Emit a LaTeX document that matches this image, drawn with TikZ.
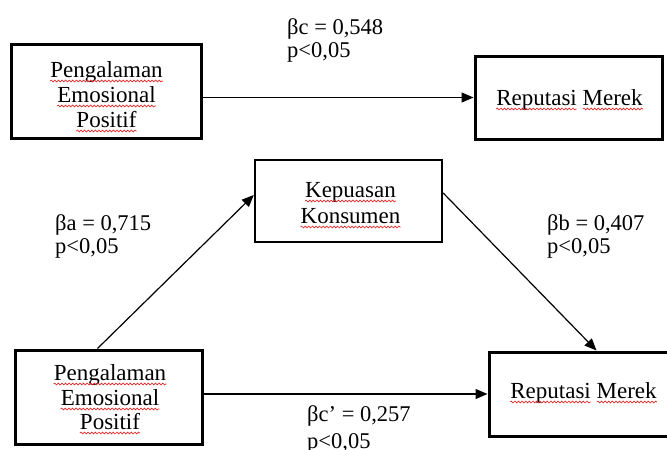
\documentclass[tikz,border=0pt]{standalone}
\usepackage{fontspec}
\setmainfont{Liberation Serif}
\usetikzlibrary{arrows.meta,decorations.pathmorphing}
\definecolor{spellred}{RGB}{228,40,40}
\newcommand\boxfont{\fontsize{23}{25}\selectfont}
\newlength\repw
\newlength\merw
\tikzset{
  varbox/.style={draw, line width=3pt, inner sep=0pt},
  midbox/.style={varbox, line width=2.4pt},
  boxline/.style={anchor=base, inner sep=0pt, font=\boxfont},
  wave/.style={draw=spellred, line width=0.7pt,
    decorate, decoration={snake, amplitude=0.9pt, segment length=3.6pt}},
  coef/.style={align=left, anchor=west, inner sep=0pt,
    font=\fontsize{22.5}{23}\selectfont},
  path arrow/.style={line width=1.2pt, -{Triangle[length=12pt,width=10pt]}}
}
% wavy underline below a whole line node
\newcommand\waveunder[1]{\path[wave] ([yshift=-4pt]#1.base west) -- ([yshift=-4pt]#1.base east);}
% wavy underlines below the two words of a "Reputasi Merek" line node
\newcommand\wavetwo[1]{%
  \path[wave] ([yshift=-4pt]#1.base west) -- ([yshift=-4pt,xshift=\repw]#1.base west);
  \path[wave] ([yshift=-4pt,xshift=-\merw]#1.base east) -- ([yshift=-4pt]#1.base east);}
\begin{document}
\settowidth\repw{\boxfont Reputasi}%
\settowidth\merw{\boxfont Merek}%
\begin{tikzpicture}[x=1pt,y=-1pt]
\useasboundingbox (0,0) rectangle (667,450);

% total effect
\node[varbox, minimum width=190pt, minimum height=94pt] (pe1) at (106,91) {};
\node[boxline] (pe1a) at (106.5,77) {Pengalaman};
\node[boxline] (pe1b) at (106.5,102) {Emosional};
\node[boxline] (pe1c) at (106.5,127) {Positif};
\node[varbox, minimum width=187pt, minimum height=83pt] (rm1) at (568.5,97.5) {};
\node[boxline] (rm1a) at (569.5,105) {Reputasi Merek};
\draw[path arrow] (pe1.east |- rm1.west) -- (rm1.west);
\node[coef] (lc) at (287,40) {βc = 0,548\\p<0,05};

% mediation model
\node[midbox, minimum width=187pt, minimum height=82pt] (kk) at (348.5,201) {};
\node[boxline] (kka) at (350.5,197) {Kepuasan};
\node[boxline] (kkb) at (350.5,223) {Konsumen};
\node[varbox, minimum width=187pt, minimum height=94pt] (pe2) at (108.5,397) {};
\node[boxline] (pe2a) at (110,380) {Pengalaman};
\node[boxline] (pe2b) at (110,405) {Emosional};
\node[boxline] (pe2c) at (110,429) {Positif};
\node[varbox, minimum width=189pt, minimum height=84pt] (rm2) at (583.5,394) {};
\node[boxline] (rm2a) at (583.5,398) {Reputasi Merek};

\draw[path arrow] ([xshift=-11pt]pe2.north) -- ([yshift=6pt]kk.west);
\draw[path arrow] ([yshift=8pt]kk.east) -- ([xshift=13pt]rm2.north);
\draw[path arrow] (pe2.east |- rm2.west) -- (rm2.west);

\node[coef] (la) at (55,236.5) {βa = 0,715\\p<0,05};
\node[coef] (lb) at (547,236.5) {βb = 0,407\\p<0,05};
\node[coef, font=\fontsize{22.5}{27}\selectfont] (lcp) at (307,429) {βc’ = 0,257\\p<0,05};

% spell-check underlines
\waveunder{pe1a}\waveunder{pe1b}\waveunder{pe1c}
\waveunder{kka}\waveunder{kkb}
\waveunder{pe2a}\waveunder{pe2b}\waveunder{pe2c}
\wavetwo{rm1a}\wavetwo{rm2a}
\end{tikzpicture}
\end{document}
